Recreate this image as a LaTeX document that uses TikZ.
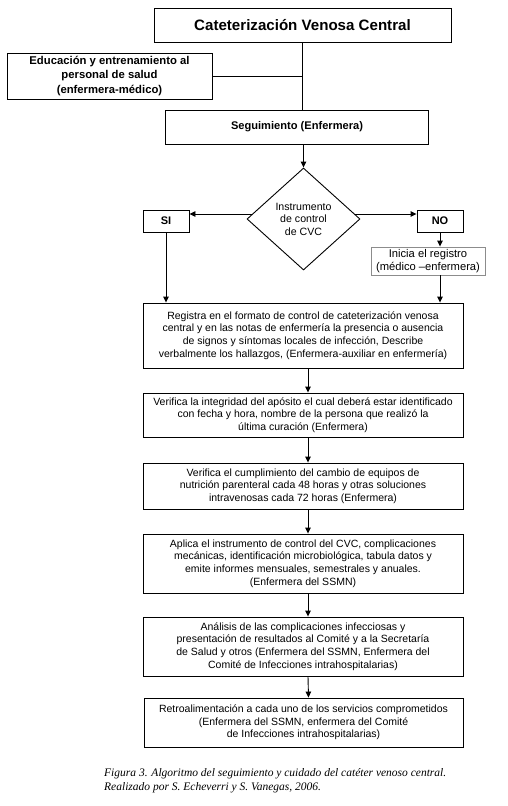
\documentclass[tikz,border=0pt]{standalone}
\usepackage{fontspec}
\setmainfont{Liberation Sans}
\newfontfamily\capfont{Liberation Serif}
\usetikzlibrary{shapes.geometric,arrows.meta}
\begin{document}
\begin{tikzpicture}[x=1pt,y=-1pt,
  ln/.style={line width=0.9pt},
  box/.style={draw,ln,inner sep=0pt,align=center,font=\fontsize{10.5}{12.6}\selectfont},
  arr/.style={ln,-{Triangle[length=6pt,width=5.5pt]}}]
\useasboundingbox (0,0) rectangle (508,806);
\node[box,minimum width=297pt,minimum height=34pt,font=\bfseries\fontsize{15.1}{18}\selectfont] (title) at (302.5,25) {Cateterización Venosa Central};
\node[box,minimum width=205pt,minimum height=46pt,font=\bfseries\fontsize{11.3}{14.5}\selectfont] (edu) at (109.5,76) {Educación y entrenamiento al\\personal de salud\\(enfermera-médico)};
\node[box,minimum width=263pt,minimum height=34pt,font=\bfseries\fontsize{11.1}{13}\selectfont] (seg) at (297,127) {Seguimiento (Enfermera)};
\node[draw,ln,diamond,minimum width=113pt,minimum height=102pt,inner sep=0pt,align=center,font=\fontsize{10.6}{12.5}\selectfont] (dia) at (303.5,219) {Instrumento\\de control\\de CVC};
\node[box,minimum width=46pt,minimum height=22pt,font=\bfseries\fontsize{11}{13}\selectfont] (si) at (166,221) {SI};
\node[box,minimum width=46pt,minimum height=22pt,font=\bfseries\fontsize{11}{13}\selectfont] (no) at (440,221) {NO};
\node[box,draw=black!45,minimum width=114pt,minimum height=28pt,font=\fontsize{11.2}{13.5}\selectfont] (ini) at (428,261) {Inicia el registro\\(médico –enfermera)};
\node[box,minimum width=320pt,minimum height=65pt] (reg) at (303,335.5) {Registra en el formato de control de cateterización venosa\\central y en las notas de enfermería la presencia o ausencia\\de signos y síntomas locales de infección, Describe\\verbalmente los hallazgos, (Enfermera-auxiliar en enfermería)};
\node[box,minimum width=320pt,minimum height=44pt] (ver1) at (303,415) {Verifica la integridad del apósito el cual deberá estar identificado\\con fecha y hora, nombre de la persona que realizó la\\última curación (Enfermera)};
\node[box,minimum width=320pt,minimum height=46pt] (ver2) at (303,486) {Verifica el cumplimiento del cambio de equipos de\\nutrición parenteral cada 48 horas y otras soluciones\\intravenosas cada 72 horas (Enfermera)};
\node[box,minimum width=320pt,minimum height=59pt] (apl) at (303,563.5) {Aplica el instrumento de control del CVC, complicaciones\\mecánicas, identificación microbiológica, tabula datos y\\emite informes mensuales, semestrales y anuales.\\(Enfermera del SSMN)};
\node[box,minimum width=320pt,minimum height=59pt] (ana) at (303,646.5) {Análisis de las complicaciones infecciosas y\\presentación de resultados al Comité y a la Secretaría\\de Salud y otros (Enfermera del SSMN, Enfermera del\\Comité de Infecciones intrahospitalarias)};
\node[box,minimum width=319pt,minimum height=49pt] (ret) at (303.5,722.5) {Retroalimentación a cada uno de los servicios comprometidos\\(Enfermera del SSMN, enfermera del Comité\\de Infecciones intrahospitalarias)};
\node[anchor=north west,inner sep=0pt,align=left,font=\capfont\itshape\fontsize{11.5}{14}\selectfont] (cap) at (104,768) {Figura 3. Algoritmo del seguimiento y cuidado del catéter venoso central.\\Realizado por S. Echeverri y S. Vanegas, 2006.};
% diamond side exit points
\coordinate (dw) at ([yshift=5pt,xshift=5.5pt]dia.west);
\coordinate (de) at ([yshift=5pt,xshift=-5.5pt]dia.east);
% connectors
\draw[ln] (title.south) -- (title.south |- seg.north);
\draw[ln] (edu.east) -- (title.south |- edu.east);
\draw[arr] (dia.north |- seg.south) -- (dia.north);
\draw[arr] (dw) -- (si.east |- dw);
\draw[arr] (de) -- (no.west |- de);
\draw[arr] (no.south) -- (no.south |- ini.north);
\draw[arr] (no.south |- ini.south) -- (no.south |- reg.north);
\draw[arr] (si.south) -- (si.south |- reg.north);
\draw[arr] ([xshift=5pt]reg.south) -- ([xshift=5pt]ver1.north);
\draw[arr] ([xshift=5pt]ver1.south) -- ([xshift=5pt]ver2.north);
\draw[arr] ([xshift=5pt]ver2.south) -- ([xshift=5pt]apl.north);
\draw[arr] ([xshift=5pt]apl.south) -- ([xshift=5pt]ana.north);
\draw[arr] ([xshift=5pt]ana.south) -- ([xshift=5pt]ret.north);
\end{tikzpicture}
\end{document}
